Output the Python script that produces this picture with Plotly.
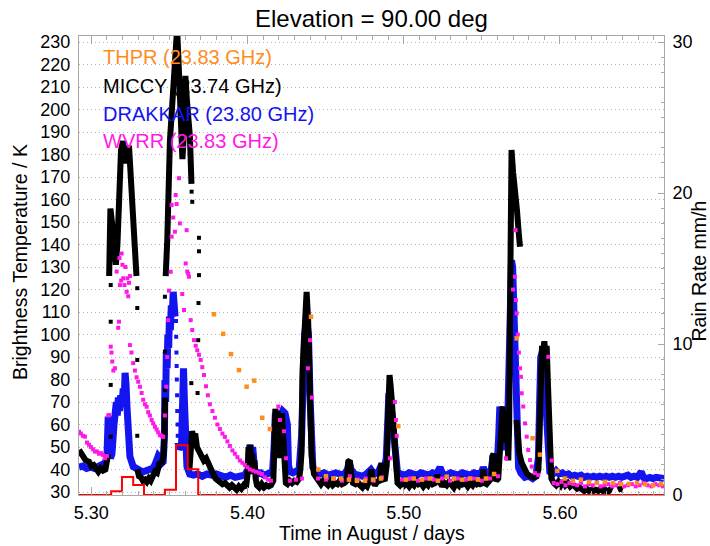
import plotly.graph_objects as go

N = None
# ---------------- MICCY (black) ----------------
miccy_t = [5.2921, 5.2946, 5.2965, 5.2985, 5.3000, 5.3015, 5.3030, 5.3045, 5.3060, 5.3075, 5.3090, 5.3102, 5.3108, N,
           5.3114, 5.3122, 5.3132, 5.3145, 5.3157, 5.3167, 5.3177, 5.3190, 5.3202, 5.3212, 5.3222, 5.3231, 5.3241, 5.3247, 5.3260, 5.3273, 5.3289, N,
           5.3295, 5.3305, 5.3318, 5.3330, 5.3343, 5.3355, 5.3368, 5.3380, 5.3393, 5.3407, 5.3420, 5.3435, 5.3450, 5.3462, 5.3468, 5.3472, N,
           5.3476, 5.3486, 5.3503, 5.3522, 5.3540, 5.3549, 5.3558, 5.3570, 5.3583, 5.3590, 5.3602, 5.3612, 5.3622, 5.3631, 5.3641, N,
           5.3628, 5.3636, 5.3645, 5.3655, 5.3665, 5.3676, 5.3690, 5.3705, 5.3720, 5.3735, 5.3750, 5.3765, 5.3780, 5.3795, 5.3810, 5.3825, 5.3840, 5.3855, 5.3870, 5.3885, 5.3900, 5.3915, 5.3930, 5.3945, 5.3960, 5.3975, 5.3990,
           5.4000, 5.4006, 5.4012, 5.4018, 5.4024, 5.4030, 5.4036, 5.4044, 5.4052, 5.4060,
           5.4075, 5.4090, 5.4105, 5.4120, 5.4135, 5.4150,
           5.4165, 5.4172, 5.4178, 5.4185, 5.4192, 5.4198, 5.4205, 5.4212, 5.4220, 5.4228, 5.4236, 5.4245, 5.4255,
           5.4270, 5.4285, 5.4300, 5.4315, 5.4330, 5.4338,
           5.4346, 5.4352, 5.4363, 5.4378, 5.4388, 5.4400, 5.4410, 5.4425,
           5.4440, 5.4455, 5.4470, 5.4485, 5.4500, 5.4515, 5.4530, 5.4545, 5.4560, 5.4575, 5.4590, 5.4605, 5.4620, 5.4635, 5.4645, 5.4655, 5.4665, 5.4675, 5.4690, 5.4705, 5.4720, 5.4735, 5.4750, 5.4765, 5.4780, 5.4792, 5.4802, 5.4815, 5.4830, 5.4845, 5.4857, 5.4866, 5.4878,
           5.4891, 5.4900, 5.4909, 5.4915, 5.4922, 5.4935, 5.4950, 5.4960,
           5.4975, 5.4990, 5.5005, 5.5020, 5.5035, 5.5050, 5.5065, 5.5080, 5.5095, 5.5110, 5.5125, 5.5140, 5.5155, 5.5170, 5.5185, 5.5200, 5.5215, 5.5230, 5.5245, 5.5260, 5.5275, 5.5290, 5.5305, 5.5320, 5.5335, 5.5350, 5.5365, 5.5380, 5.5395, 5.5410, 5.5425, 5.5440, 5.5455, 5.5470, 5.5485, 5.5500, 5.5509, 5.5518, 5.5530, 5.5545, 5.5560, 5.5568, 5.5575, 5.5582, 5.5592,
           5.5605, 5.5615, 5.5625, 5.5633, 5.5640, 5.5647, 5.5655, 5.5662, 5.5669,
           5.5675, 5.5683, 5.5690, 5.5700, 5.5712, 5.5725, 5.5735, 5.5744, N,
           5.5722, 5.5730, 5.5740, 5.5755, 5.5770, 5.5790, 5.5810, 5.5830, 5.5850, 5.5862,
           5.5868, 5.5877, 5.5885, 5.5893, 5.5900, 5.5908, 5.5915, 5.5922, 5.5928, 5.5936, 5.5945,
           5.5960, 5.5975, 5.5990, 5.6005, 5.6020, 5.6035, 5.6050, 5.6065, 5.6080, 5.6095, 5.6110, 5.6125, 5.6140, 5.6155, 5.6170, 5.6185, 5.6200, 5.6215, 5.6230, 5.6245, 5.6260, 5.6275, 5.6290, 5.6305, 5.6320, 5.6335, N,
           5.6370, 5.6385, 5.6403]
miccy_tb = [48.7, 46.5, 44.0, 43.5, 41.5, 42.0, 40.0, 39.0, 40.5, 39.5, 40.0, 43.0, 47.0, N,
            126, 156, 150, 140, 131, 140, 166, 182, 186, 176, 184, 178, 184, 175, 160, 145, 126, N,
            40, 37, 36.5, 35, 35.5, 34.5, 36, 35, 37, 39, 38.5, 42.5, 43, 46, 55, 72, N,
            126, 142, 186, 212, 232, 236, 222, 200, 178, 186, 215, 204, 194, 188, 167, N,
            40, 52, 57, 54, 56, 50, 48, 46, 44, 45, 42, 40, 38, 36, 35, 34.5, 33.5, 34, 32.5, 32, 33, 31.5, 31, 32.5, 31.5, 33, 32,
            38, 50, 42, 51, 40, 47, 38, 44, 36, 33,
            32, 33.5, 32, 33, 32.5, 33,
            35, 55, 67, 60, 66, 45, 64, 58, 65, 50, 38, 34, 33.5,
            35, 34, 35, 34.5, 36, 40,
            48, 84, 106, 119, 106, 70, 46, 38,
            36, 35, 33.5, 35, 34, 33, 34.5, 33, 34, 33.5, 35, 33.5, 34, 35, 43.5, 44, 37, 34, 33.5, 34.5, 33, 32, 33.5, 32.5, 35, 40, 35, 33, 34.5, 35, 43, 36, 35,
            42, 65, 82, 78, 72, 55, 38, 34,
            33, 34.5, 33, 34, 32.5, 34, 33, 35, 33.5, 34, 32.5, 34, 33, 35, 33.5, 34, 37.5, 34, 32.5, 34, 33, 34.5, 33, 32, 34, 33, 36.5, 33.5, 34, 32.5, 34, 33, 35, 33.5, 34, 33, 40, 34, 33.5, 35, 36, 46, 47, 38, 35,
            36, 45, 62, 68, 58, 66, 52, 60, 44,
            60, 130, 182, 172, 165, 155, 146, 139, N,
            62, 55, 47, 43, 40, 38, 37, 36.5, 37, 40,
            55, 87, 95, 93, 97, 90, 95, 80, 65, 43, 36,
            34, 33, 34.5, 33, 35, 33, 34, 32.5, 33.5, 32, 31.5, 32, 31, 30.5, 31.5, 30.5, 31, 30.5, 31, 30.5, 31.5, 30.5, 31, 30, 31, 30.5, N,
            31, 31.5, 31]
miccy_dot_t = [5.3124, 5.3124, 5.3124, 5.3124, 5.3294, 5.3294, 5.3294, 5.3294, 5.3471, 5.3471, 5.3471,
               5.3642, 5.3646, 5.3689, 5.3689, 5.3689, 5.3686, 5.3684, 5.3680, 5.3640]
miccy_dot_tb = [122, 105.7, 77.6, 54.6, 120.6, 111.8, 88.7, 55, 116.8, 92.4, 75.3,
                163.5, 159, 143, 137, 126.4, 114, 97.5, 74, 78.4]

# ---------------- DRAKKAR (blue) ----------------
drakkar_t = [5.2921, 5.2945, 5.2970, 5.2995, 5.3020, 5.3045, 5.3070, 5.3090, 5.3100, 5.3108, 5.3114, 5.3122, 5.3132, 5.3145, 5.3152, 5.3160, 5.3166, 5.3173, 5.3180, 5.3188, 5.3196, 5.3204, 5.3210, 5.3216, 5.3222, 5.3228, 5.3236, 5.3247, 5.3268, 5.3290, 5.3312, 5.3332, 5.3355, 5.3375, 5.3396, 5.3412, 5.3428, 5.3440, 5.3450, 5.3460, 5.3468,
             5.3471, 5.3476, 5.3480, 5.3485, 5.3490, 5.3495, 5.3500, 5.3506, 5.3512, 5.3518, 5.3524, 5.3530, 5.3536, N,
             5.3555, 5.3562, 5.3570, 5.3578, 5.3584, 5.3590, 5.3596, 5.3602, 5.3612, 5.3630, 5.3655, 5.3680, 5.3710, 5.3740, 5.3770, 5.3800, 5.3830, 5.3860, 5.3890, 5.3920, 5.3950, 5.3980,
             5.4005, 5.4015, 5.4025, 5.4033, 5.4045,
             5.4065, 5.4085, 5.4105, 5.4125, 5.4145, 5.4160,
             5.4170, 5.4178, 5.4190, 5.4200, 5.4212, 5.4225, 5.4240, 5.4255, 5.4262, 5.4272, 5.4290, 5.4310, 5.4330,
             5.4346, 5.4355, 5.4365, 5.4378, 5.4390, 5.4400, 5.4408, 5.4418,
             5.4440, 5.4465, 5.4490, 5.4515, 5.4540, 5.4565, 5.4590, 5.4615, 5.4640, 5.4650, 5.4662, 5.4685, 5.4710, 5.4735, 5.4760, 5.4790, 5.4810, 5.4835, 5.4857, 5.4870,
             5.4888, 5.4897, 5.4905, 5.4913, 5.4922, 5.4935, 5.4948, 5.4960,
             5.4985, 5.5010, 5.5035, 5.5060, 5.5085, 5.5110, 5.5135, 5.5160, 5.5185, 5.5210, 5.5232, 5.5250, 5.5275, 5.5300, 5.5325, 5.5350, 5.5375, 5.5400, 5.5425, 5.5450, 5.5475, 5.5500, 5.5509, 5.5525, 5.5545, 5.5560, 5.5572, 5.5585, 5.5598,
             5.5608, 5.5615, 5.5625, 5.5635, 5.5645, 5.5655, 5.5665, 5.5675, 5.5683, 5.5690, 5.5697, 5.5705, 5.5712, 5.5720, 5.5727, 5.5735, 5.5750, 5.5775, 5.5800, 5.5825, 5.5845,
             5.5862, 5.5870, 5.5877, 5.5890, 5.5900, 5.5910, 5.5918, 5.5925, 5.5935,
             5.5955, 5.5975, 5.5995, 5.6015, 5.6035, 5.6055, 5.6075, 5.6095, 5.6115, 5.6135, 5.6155, 5.6175, 5.6195, 5.6215, 5.6235, 5.6255, 5.6275, 5.6295, 5.6315, 5.6335, 5.6355, 5.6375, 5.6395, 5.6415, 5.6435, 5.6455, 5.6475, 5.6495, 5.6520, 5.6535, 5.6555, 5.6575, 5.6595, 5.6615, 5.6635, 5.6655, 5.6666]
drakkar_tb = [41, 41.5, 40.5, 41, 40.5, 41.5, 42.5, 43, 46, 63.5, 55, 45, 47, 60, 66, 70, 64, 72, 66, 73, 68, 76, 70, 83, 78, 68, 54.6, 45.7, 41.3, 40, 39.5, 39, 39.5, 40, 40.6, 43, 46, 45, 42.8, 43.5, 55,
              79.8, 70, 92, 85, 100, 94, 108, 102, 113, 108, 119, 112, 108, N,
              52, 49, 50, 52, 84, 85, 70, 57, 41.3, 38, 37.5, 38, 37, 38, 37.5, 38, 37, 36.5, 37.5, 36.5, 37, 37.5,
              40, 51, 44, 50, 40,
              38, 38.5, 37.5, 38, 38.5, 39,
              50, 65, 62, 66, 64, 66, 65, 60, 42, 39, 38.5, 39, 40,
              55, 90, 100, 106, 100, 72, 50, 41,
              39, 38, 38.5, 37.5, 38, 38.5, 38, 37.5, 40, 43.5, 40, 38, 37.5, 37, 38, 40, 38, 38.5, 42, 39,
              45, 68, 74, 72, 65, 55, 42, 38.5,
              38, 37.5, 38.5, 38, 37.5, 38.5, 38, 37.5, 38.5, 38, 41, 38, 37.5, 38.5, 38, 37.5, 38.5, 38, 37.5, 38.5, 38, 39, 41, 38, 38.5, 40, 46, 40, 42,
              55, 68, 64, 60, 50, 50, 60, 95, 125, 133, 130, 110, 85, 62, 48, 41, 38.4, 36.5, 37, 36, 37,
              45, 70, 90, 93, 80, 65, 50, 43, 39,
              38, 39.5, 38, 38.5, 37.5, 38, 37, 37.5, 37, 37.5, 36.5, 37, 36.5, 37, 36.5, 37, 36.5, 37, 36.5, 37, 36.5, 37, 36.5, 37, 37.5, 36.5, 37, 36.5, 39, 36.5, 36, 36.5, 36, 36.5, 36, 36, 36]
drakkar_dot_t = [5.3542, 5.3543, 5.3545, 5.3546, 5.3547, 5.3549, 5.3550, 5.3552, 5.3553]
drakkar_dot_tb = [106, 99, 92, 86, 80, 73, 66, 60, 55]

# ---------------- WVRR (magenta) ----------------
wvrr_t = [5.2921, 5.2933, 5.2946, 5.2959, 5.2972, 5.2985, 5.2997, 5.3010, 5.3023, 5.3036, 5.3049, 5.3061, 5.3074, 5.3087, 5.3100,
          5.3108, 5.3113, 5.3124, 5.3129, 5.3134, 5.3141, 5.3151, 5.3172, 5.3177,
          5.3162, 5.3180, 5.3183, 5.3191, 5.3194, 5.3199, 5.3204, 5.3212, 5.3218, 5.3226, 5.3231, 5.3236, 5.3241, 5.3247,
          5.3247, 5.3257, 5.3268, 5.3279, 5.3290, 5.3300, 5.3311, 5.3322, 5.3332, 5.3343, 5.3354, 5.3364, 5.3375, 5.3386, 5.3396, 5.3407, 5.3418, 5.3428, 5.3439, 5.3450, 5.3460,
          5.3471, 5.3480, 5.3486, 5.3492, 5.3497, 5.3508,
          5.3514, 5.3524, 5.3535, 5.3514, 5.3540, 5.3546, 5.3561, 5.3567, 5.3582, 5.3593, 5.3604, 5.3610, 5.3614, 5.3620, 5.3625,
          5.3636, 5.3646, 5.3657, 5.3668, 5.3678, 5.3689, 5.3700, 5.3710, 5.3721, 5.3734, 5.3746, 5.3759, 5.3775, 5.3791, 5.3807, 5.3823, 5.3839, 5.3855, 5.3871, 5.3887, 5.3903, 5.3919, 5.3935, 5.3951, 5.3967, 5.3983, 5.3999, 5.4015, 5.4035, 5.4054, 5.4073, 5.4092, 5.4111, 5.4131, 5.4150,
          5.4197, 5.4207, 5.4233, 5.4246, 5.4271, 5.4310, 5.4348, 5.4387, 5.4400, 5.4412,
          5.4451, 5.4502, 5.4553, 5.4604, 5.4655, 5.4706, 5.4757, 5.4808, 5.4860, 5.4911, 5.4943, 5.4950, 5.4955, 5.4989, 5.5040, 5.5091, 5.5142, 5.5193, 5.5245, 5.5296, 5.5347, 5.5398, 5.5449, 5.5500, 5.5552, 5.5603, 5.5654,
          5.5699, 5.5712, 5.5716, 5.5718, 5.5723, 5.5730, 5.5737, 5.5744, 5.5750, 5.5755, 5.5765, 5.5776, 5.5787, 5.5797, 5.5808, 5.5819, 5.5840, 5.5861, 5.5925, 5.5947,
          5.5960, 5.5985, 5.6010, 5.6035, 5.6060, 5.6085, 5.6110, 5.6135, 5.6160, 5.6185, 5.6210, 5.6235, 5.6260, 5.6285, 5.6310, 5.6335, 5.6360, 5.6385, 5.6410, 5.6435, 5.6460, 5.6485, 5.6510, 5.6535, 5.6560, 5.6585, 5.6610, 5.6635, 5.6660]
wvrr_tb = [56.8, 56, 55, 54.6, 52, 51, 50, 49, 48, 48, 47, 47.3, 46.5, 45, 46,
           64, 64.2, 94.6, 92, 88, 84, 85, 103, 105.7,
           128, 134, 122, 124, 136, 131, 125, 122, 130, 119, 125, 117, 123, 126,
           95.3, 92, 87.3, 84, 81, 79, 76.8, 74, 71, 69, 67.9, 65.5, 64, 62, 60.5, 59, 57.8, 56.5, 55.3, 55, 54.5,
           64, 76.8, 90, 106.4, 119.5, 127.9,
           157.6, 152, 145.7, 143.5, 162, 158, 169.5, 149.4, 118, 110.9, 131.6, 146.4, 128, 127, 125.7,
           106.4, 102, 97.5, 95, 93, 91, 88.7, 85.5, 82, 77, 73, 69, 66, 63, 60, 58, 56, 54.5, 52.5, 50.5, 48.5, 47, 45.5, 44, 43, 42, 41, 40, 39.5, 39, 38.5, 38, 36.5, 35.5, 35,
           68, 62, 57, 45, 35, 35.5, 36, 85, 97.5, 72,
           36, 35.5, 36, 35, 37, 35.5, 36, 35, 36.5, 45, 70, 62, 55, 35.5, 36, 35, 36, 35.5, 36, 35, 36, 35.5, 36, 35, 36, 37, 45,
           120, 125.7, 146.4, 115.3, 109.4, 100, 92, 85, 81.2, 73.9, 68, 60.5, 54.6, 48.7, 44.2, 41.3, 38.4, 37.5, 90.1, 44,
           34, 33.5, 34.5, 33, 34, 33.5, 33, 34, 32.5, 33.5, 33, 34, 32.5, 33, 33.5, 32.5, 33, 34, 32.5, 33, 33.5, 32.5, 33, 34, 33, 32.5, 33.5, 33, 32.5]

# ---------------- THPR (orange) ----------------
thpr_t = [5.3785, 5.3844, 5.3894, 5.3945, 5.3994, 5.4043, 5.4094, 5.4143, 5.4406, 5.4453, 5.4502, 5.4549, 5.4598, 5.4649, 5.4700, 5.4752, 5.4803, 5.4854,
          5.4965, 5.5014, 5.5065, 5.5117, 5.5168, 5.5219, 5.5275, 5.5321, 5.5373, 5.5424, 5.5475, 5.5526, 5.5578, 5.5723, 5.5825, 5.5872, 5.5983,
          5.6032, 5.6083, 5.6134, 5.6186, 5.6237, 5.6288, 5.6340, 5.6391, 5.6442, 5.6493, 5.6545, 5.6596, 5.6647]
thpr_tb = [109, 100.3, 91.3, 84.2, 76.8, 79.5, 63, 58, 107.9, 40, 37, 36, 36, 35.5, 35, 35, 35.5, 36,
           59.3, 35.5, 36, 35.5, 36, 35, 36.8, 36, 35.5, 36, 35.5, 36, 38, 98.3, 53.9, 46.6, 39.4,
           36, 35, 35.5, 34.5, 34, 34.5, 34, 33.5, 33.6, 34, 33.5, 33, 33.5]

# ---------------- Rain rate (red, right axis) ----------------
rain_t = [5.2921, 5.3127, 5.3196, 5.3268, 5.3337, 5.3471, 5.3542, 5.3617, 5.3684, 5.6666]
rain_rate = [0, 0.25, 1.2, 0.66, 0, 0.35, 3.3, 1.7, 0, 0]

FONT = "Liberation Sans, Arial, sans-serif"
GRAY = "#a8a8a8"
C_THPR = "#ff8c1e"
C_MICCY = "#000000"
C_DRAK = "#1414f0"
C_WVRR = "#ff19e6"

fig = go.Figure()
fig.add_trace(go.Scatter(x=drakkar_t, y=drakkar_tb, mode="lines", line=dict(color=C_DRAK, width=7), connectgaps=False, showlegend=False))
fig.add_trace(go.Scatter(x=drakkar_dot_t, y=drakkar_dot_tb, mode="markers", marker=dict(color=C_DRAK, size=4, symbol="square"), showlegend=False))
fig.add_trace(go.Scatter(x=miccy_t, y=miccy_tb, mode="lines", line=dict(color=C_MICCY, width=6), connectgaps=False, showlegend=False))
fig.add_trace(go.Scatter(x=miccy_dot_t, y=miccy_dot_tb, mode="markers", marker=dict(color=C_MICCY, size=4, symbol="square"), showlegend=False))
fig.add_trace(go.Scatter(x=wvrr_t, y=wvrr_tb, mode="markers", marker=dict(color=C_WVRR, size=4, symbol="square", line=dict(width=0)), showlegend=False))
fig.add_trace(go.Scatter(x=thpr_t, y=thpr_tb, mode="markers", marker=dict(color=C_THPR, size=4.5, symbol="square", line=dict(width=0)), showlegend=False))
fig.add_trace(go.Scatter(x=rain_t, y=rain_rate, yaxis="y2", mode="lines", line=dict(color="#ff0000", width=2, shape="hv"), showlegend=False))

ann = []
legend_items = [("THPR (23.83 GHz)", C_THPR, 0.9542), ("MICCY (23.74 GHz)", C_MICCY, 0.8902),
                ("DRAKKAR (23.80 GHz)", C_DRAK, 0.8305), ("WVRR (23.83 GHz)", C_WVRR, 0.7704)]
for txt, col, yy in legend_items:
    ann.append(dict(text=txt, x=0.0395, y=yy, xref="paper", yref="paper", xanchor="left", yanchor="middle",
                    showarrow=False, borderpad=0, font=dict(family=FONT, size=20, color=col)))
ann.append(dict(text="Elevation = 90.00 deg", x=0.5, y=1.0383, xref="paper", yref="paper", xanchor="center", yanchor="middle",
                showarrow=False, borderpad=0, font=dict(family=FONT, size=24, color="black")))
ann.append(dict(text="Time in August / days", x=0.5, y=-0.0828, xref="paper", yref="paper", xanchor="center", yanchor="middle",
                showarrow=False, borderpad=0, font=dict(family=FONT, size=19.5, color="black")))
ann.append(dict(text="Brightness Temperature / K", x=-0.1009, y=0.5076, xref="paper", yref="paper", xanchor="center", yanchor="middle",
                textangle=-90, showarrow=False, borderpad=0, font=dict(family=FONT, size=19.5, color="black")))
ann.append(dict(text="Rain Rate mm/h", x=1.0590, y=0.488, xref="paper", yref="paper", xanchor="center", yanchor="middle",
                textangle=-90, showarrow=False, borderpad=0, font=dict(family=FONT, size=19.5, color="black")))

fig.update_layout(
    width=710, height=546, autosize=False,
    margin=dict(l=79, r=46, t=36, b=51, pad=0),
    paper_bgcolor="white", plot_bgcolor="white",
    showlegend=False,
    annotations=ann,
    xaxis=dict(range=[5.2921, 5.6666], tick0=5.3, dtick=0.1, tickformat=".2f",
               showgrid=False, zeroline=False, showline=True, linecolor=GRAY, linewidth=1, mirror="ticks",
               ticks="inside", ticklen=8, tickcolor=GRAY, tickwidth=1,
               minor=dict(dtick=0.01, tick0=5.3, ticks="inside", ticklen=4, tickcolor=GRAY, tickwidth=1),
               tickfont=dict(family=FONT, size=18, color="black"), ticklabelstandoff=1),
    yaxis=dict(range=[28.67, 232.7], tick0=30, dtick=10, showgrid=True, gridcolor="#b4b4b4", gridwidth=1, griddash="1px,3px",
               zeroline=False, showline=True, linecolor=GRAY, linewidth=1, ticks="",
               tickfont=dict(family=FONT, size=18, color="black"), ticklabelstandoff=4),
    yaxis2=dict(range=[0, 30.4], overlaying="y", side="right", tick0=0, dtick=10, showgrid=False, zeroline=False,
                showline=True, linecolor=GRAY, linewidth=1, ticks="inside", ticklen=6, tickcolor=GRAY,
                minor=dict(dtick=1, ticks="inside", ticklen=3, tickcolor=GRAY),
                tickfont=dict(family=FONT, size=18, color="black"), ticklabelstandoff=4),
)
fig.write_html("out.html")
